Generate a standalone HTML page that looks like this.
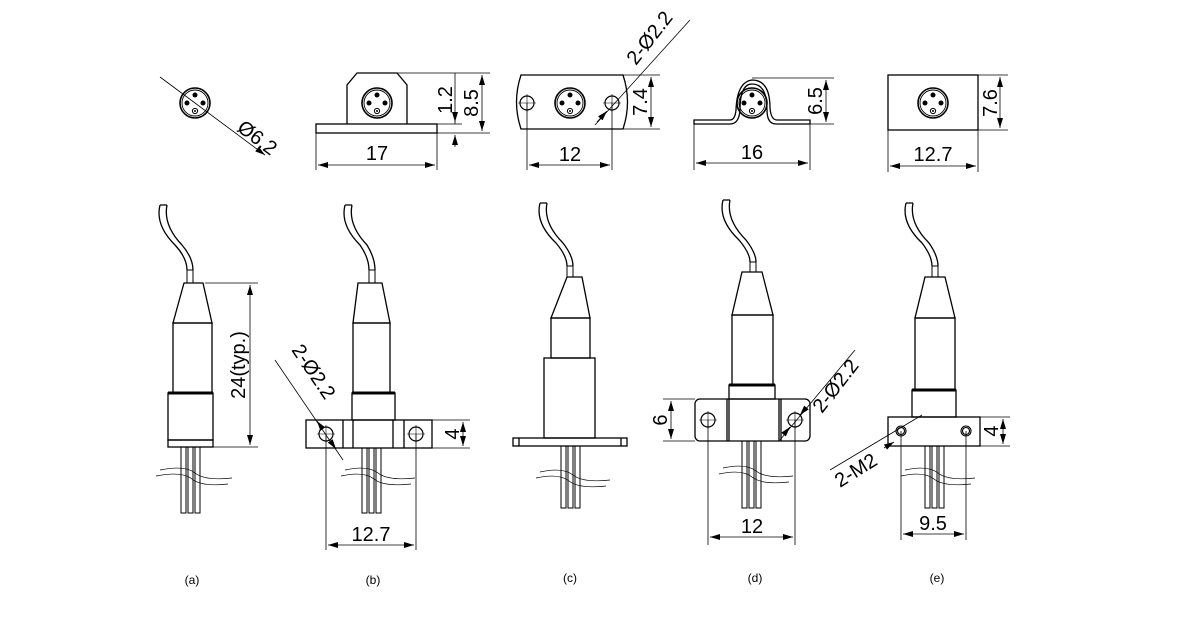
<!DOCTYPE html>
<html><head><meta charset="utf-8"><style>body{margin:0;background:#fff}svg{display:block}text{font-family:"Liberation Sans",sans-serif;fill:#000}</style></head><body>
<svg width="1186" height="629" viewBox="0 0 1186 629" xmlns="http://www.w3.org/2000/svg">
<defs>
<marker id="ar" viewBox="0 0 10 6" refX="10" refY="3" markerWidth="10" markerHeight="6" orient="auto-start-reverse" markerUnits="userSpaceOnUse"><path d="M0,0L10,3L0,6z" fill="#000"/></marker>
<g id="face"><circle r="15" fill="none" stroke="#000" stroke-width="1.6"/><circle r="13" fill="none" stroke="#000" stroke-width="0.9"/><circle cx="0" cy="-8" r="2.5"/><circle cx="-8" cy="0" r="2.5"/><circle cx="8" cy="0" r="2.5"/><circle cx="0" cy="8" r="2.6" fill="none" stroke="#000"/><circle cx="0" cy="8" r="1"/></g>
<g id="hole"><circle r="7" fill="none" stroke="#000" stroke-width="1.2"/><path d="M-9,0H9M0,-9V9" stroke="#000" stroke-width="0.6"/></g>
</defs>
<g fill="none" stroke="#000" stroke-width="1.3">
<path d="M160,77L265,155" stroke-width="0.8" marker-end="url(#ar)"/>
<path d="M347,124V85L357,73H397L407,85V124"/>
<rect x="316" y="124" width="121" height="9"/>
<g stroke-width="0.8"><path d="M316,133V170M437,133V170M397,73H490M437,124H462M437,133H490"/>
<path d="M318,165H435" marker-start="url(#ar)" marker-end="url(#ar)"/>
<path d="M482,75V131" marker-start="url(#ar)" marker-end="url(#ar)"/>
<path d="M455,73V124"/><path d="M455,112V122" marker-end="url(#ar)"/><path d="M455,147V135" marker-end="url(#ar)"/></g>
<path d="M521,75H623Q632,102 623,129H521Q512,102 521,75Z"/>
<g stroke-width="0.8"><path d="M527,103V170M612,103V170M623,75H660M623,129H660"/>
<path d="M529,165H610" marker-start="url(#ar)" marker-end="url(#ar)"/>
<path d="M651,77V127" marker-start="url(#ar)" marker-end="url(#ar)"/>
<path d="M595,125L690,20"/><path d="M597,122L607,111" marker-end="url(#ar)"/></g>
<path d="M694,120H730Q735,120 736,110Q737,82 752,80Q770,80 770,108Q771,120 777,120H810V124H776Q767,124 767,110Q767,84 752,84Q740,84 740,110Q739,124 730,124H694Z"/>
<g stroke-width="0.8"><path d="M694,124V170M810,124V170M752,78H834M810,124H834"/>
<path d="M696,163H808" marker-start="url(#ar)" marker-end="url(#ar)"/>
<path d="M826,80V122" marker-start="url(#ar)" marker-end="url(#ar)"/></g>
<rect x="888" y="75" width="90" height="55"/>
<g stroke-width="0.8"><path d="M888,130V172M978,130V172M978,75H1008M978,130H1008"/>
<path d="M890,166H976" marker-start="url(#ar)" marker-end="url(#ar)"/>
<path d="M1000,77V128" marker-start="url(#ar)" marker-end="url(#ar)"/></g>

<path d="M160,205Q155,225 175,245Q187,258 187,270M167,205Q163,225 182,245Q193,258 193,270M160,205H167"/>
<rect x="187" y="270" width="6" height="13" stroke-width="1"/>
<path d="M184,283H203L212,323H173Z"/>
<rect x="173" y="323" width="39" height="70"/>
<rect x="168" y="393" width="45" height="47"/><path d="M168,393H213" stroke-width="3"/>
<rect x="168" y="440" width="45" height="7"/>
<path d="M181,447V513H186V447M188,447V513H193V447M195,447V513H200V447" stroke-width="1"/>
<path d="M160,470Q185,465 195,473T232,478M156,476Q182,471 192,479T228,484" stroke-width="0.7"/>
<g stroke-width="0.8"><path d="M205,283H258M213,447H258"/><path d="M250,285V445" marker-start="url(#ar)" marker-end="url(#ar)"/></g>

<path d="M345,205Q340,225 360,245Q369,258 369,270M352,205Q348,225 367,245Q375,258 375,270M345,205H352"/>
<rect x="369" y="270" width="6" height="13" stroke-width="1"/>
<path d="M358,283H382L390,323H353Z"/>
<rect x="353" y="323" width="37" height="70"/>
<rect x="352" y="393" width="43" height="27"/><path d="M352,393H395" stroke-width="3"/>
<rect x="306" y="420" width="126" height="28"/>
<path d="M343,420V448M353,420V448M393,420V448M404,420V448"/>
<path d="M362,448V513H367V448M369,448V513H374V448M376,448V513H381V448" stroke-width="1"/>
<path d="M345,470Q368,465 378,473T415,478M341,476Q364,471 374,479T411,484" stroke-width="0.7"/>
<g stroke-width="0.8"><path d="M326,434V550M416,434V550M432,420H470M432,448H470"/>
<path d="M328,545H414" marker-start="url(#ar)" marker-end="url(#ar)"/>
<path d="M463,422V446" marker-start="url(#ar)" marker-end="url(#ar)"/>
<path d="M275,360L343,460"/><path d="M322,428L317,421" marker-end="url(#ar)"/><path d="M331,442L336,449" marker-end="url(#ar)"/></g>

<path d="M540,203Q535,223 556,243Q567,256 567,266M547,203Q543,223 563,243Q573,256 573,266M540,203H547"/>
<rect x="567" y="266" width="6" height="11" stroke-width="1"/>
<path d="M567,277H582L590,318H551Z"/>
<rect x="551" y="318" width="39" height="40"/>
<rect x="544" y="358" width="51" height="80"/>
<rect x="513" y="438" width="114" height="8"/><path d="M519,438V446M621,438V446"/>
<path d="M561,446V508H566V446M568,446V508H573V446M575,446V508H580V446" stroke-width="1"/>
<path d="M540,472Q563,467 573,475T610,480M536,478Q559,473 569,481T606,486" stroke-width="0.7"/>

<path d="M723,200Q718,220 739,240Q750,253 750,262M730,200Q726,220 746,240Q756,253 756,262M723,200H730"/>
<rect x="750" y="262" width="6" height="10" stroke-width="1"/>
<path d="M742,272H762L773,315H732Z"/>
<rect x="732" y="315" width="41" height="70"/>
<rect x="729" y="385" width="46" height="14"/><path d="M729,385H775" stroke-width="3"/>
<rect x="695" y="399" width="115" height="42" rx="5"/>
<path d="M727,399V441M729,399V441M779,399V441M781,399V441"/>
<path d="M742,441V508H747V441M749,441V508H754V441M756,441V508H761V441" stroke-width="1"/>
<path d="M723,468Q746,463 756,471T793,476M719,474Q742,469 752,477T789,482" stroke-width="0.7"/>
<g stroke-width="0.8"><path d="M708,420V545M795,420V545M663,399H695M663,441H695"/>
<path d="M710,537H793" marker-start="url(#ar)" marker-end="url(#ar)"/>
<path d="M671,401V439" marker-start="url(#ar)" marker-end="url(#ar)"/>
<path d="M780,440L855,350"/><path d="M784,434L790,427" marker-end="url(#ar)"/><path d="M806,408L800,415" marker-end="url(#ar)"/></g>

<path d="M906,203Q901,223 922,243Q932,256 932,266M913,203Q909,223 929,243Q938,256 938,266M906,203H913"/>
<rect x="932" y="266" width="6" height="11" stroke-width="1"/>
<path d="M925,277H945L955,318H915Z"/>
<rect x="915" y="318" width="40" height="72"/>
<rect x="912" y="390" width="44" height="27"/><path d="M912,390H956" stroke-width="3"/>
<rect x="888" y="417" width="92" height="29"/>
<path d="M925,446V508H930V446M932,446V508H937V446M939,446V508H944V446" stroke-width="1"/>
<path d="M905,470Q928,465 938,473T975,478M901,476Q924,471 934,479T971,484" stroke-width="0.7"/>
<g stroke-width="0.8"><path d="M901,431V540M966,431V540M980,417H1010M980,446H1010"/>
<path d="M903,534H964" marker-start="url(#ar)" marker-end="url(#ar)"/>
<path d="M1003,419V444" marker-start="url(#ar)" marker-end="url(#ar)"/>
<path d="M830,470L922,415"/><path d="M884,448L894,442" marker-end="url(#ar)"/></g>
</g>
<g transform="translate(195,103)"><use href="#face"/></g>
<g transform="translate(377,103)"><use href="#face"/></g>
<g transform="translate(570,103)"><use href="#face"/></g>
<g transform="translate(752,103)"><use href="#face"/></g>
<g transform="translate(933,103)"><use href="#face"/></g>
<use href="#hole" x="527" y="103"/><use href="#hole" x="612" y="103"/>
<use href="#hole" x="326" y="434"/><use href="#hole" x="416" y="434"/>
<use href="#hole" x="708" y="420"/><use href="#hole" x="795" y="420"/>
<g fill="none" stroke="#000" stroke-width="1.1"><circle cx="901" cy="431" r="5"/><circle cx="901" cy="431" r="3.5"/><circle cx="966" cy="431" r="5"/><circle cx="966" cy="431" r="3.5"/></g>
<g font-size="20">
<text transform="translate(236,130) rotate(37)">Ø6.2</text>
<text x="377" y="160" text-anchor="middle">17</text>
<text transform="translate(452,100) rotate(-90)" text-anchor="middle">1.2</text>
<text transform="translate(478,103) rotate(-90)" text-anchor="middle">8.5</text>
<text x="570" y="161" text-anchor="middle">12</text>
<text transform="translate(647,102) rotate(-90)" text-anchor="middle">7.4</text>
<text transform="translate(636,66) rotate(-52)">2-Ø2.2</text>
<text x="752" y="159" text-anchor="middle">16</text>
<text transform="translate(822,101) rotate(-90)" text-anchor="middle">6.5</text>
<text x="933" y="161" text-anchor="middle">12.7</text>
<text transform="translate(997,103) rotate(-90)" text-anchor="middle">7.6</text>
<text transform="translate(245,365) rotate(-90)" text-anchor="middle">24(typ.)</text>
<text transform="translate(291,350) rotate(56)">2-Ø2.2</text>
<text x="371" y="541" text-anchor="middle">12.7</text>
<text transform="translate(459,434) rotate(-90)" text-anchor="middle">4</text>
<text x="752" y="533" text-anchor="middle">12</text>
<text transform="translate(667,420) rotate(-90)" text-anchor="middle">6</text>
<text transform="translate(822,414) rotate(-52)">2-Ø2.2</text>
<text x="933" y="530" text-anchor="middle">9.5</text>
<text transform="translate(998,431) rotate(-90)" text-anchor="middle">4</text>
<text transform="translate(840,488) rotate(-32)">2-M2</text>
</g>
<g font-size="12" text-anchor="middle">
<text x="192" y="584">(a)</text><text x="373" y="584">(b)</text><text x="570" y="582">(c)</text><text x="755" y="582">(d)</text><text x="937" y="582">(e)</text>
</g>
</svg>
</body></html>
